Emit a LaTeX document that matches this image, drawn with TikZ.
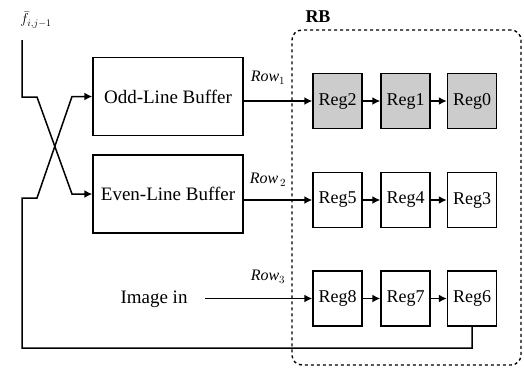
\documentclass[tikz,border=0pt]{standalone}
\usepackage{fontspec}
\setmainfont{Liberation Serif}
\usetikzlibrary{arrows.meta}
\begin{document}
\begin{tikzpicture}[x=1pt,y=-1pt,
  buf/.style={draw,line width=1.5pt,minimum width=150pt,minimum height=78pt,inner sep=0pt,font=\fontsize{19}{21}\selectfont},
  reg/.style={draw,line width=1.5pt,minimum width=49pt,minimum height=55pt,inner sep=0pt,font=\fontsize{18}{20}\selectfont},
  greg/.style={reg,fill=black!20},
  conn/.style={line width=1.5pt},
  arr/.style={conn,-{Latex[length=8pt,width=8pt]}},
  lbl/.style={font=\fontsize{16}{18}\selectfont\itshape,inner sep=0pt}
]
\useasboundingbox (0,0) rectangle (524,368);
% RB
\node[draw,dashed,line width=1.4pt,rounded corners=10pt,minimum width=229pt,minimum height=335pt,inner sep=0pt] (rb) at (406.5,197.5) {};
\node[font=\fontsize{18}{20}\selectfont\bfseries,inner sep=0pt] (rbl) at (318,17) {RB};
% buffers
\node[buf] (odd) at (168,96.5) {Odd-Line Buffer};
\node[buf] (even) at (168,194) {Even-Line Buffer};
% registers
\node[greg] (r2) at (337.5,101) {Reg2};
\node[greg] (r1) at (405.5,101) {Reg1};
\node[greg] (r0) at (472,101) {Reg0};
\node[reg] (r5) at (337.5,200) {Reg5};
\node[reg] (r4) at (405.5,200) {Reg4};
\node[reg] (r3) at (472,200) {Reg3};
\node[reg] (r8) at (337.5,298.5) {Reg8};
\node[reg] (r7) at (405.5,298.5) {Reg7};
\node[reg] (r6) at (472,298.5) {Reg6};
% inputs
\node[font=\fontsize{19}{21}\selectfont,inner sep=0pt] (img) at (154,299) {Image in};
\node[inner sep=0pt,font=\fontsize{14}{16}\selectfont] (f) at (36,20) {$\bar{f}_{i,j-1}$};
% row labels
\node[lbl] (row1) at (268,78) {Row$_1$};
\node[lbl] (row2) at (268,180) {Row$_{\,2}$};
\node[lbl] (row3) at (268,277) {Row$_3$};
% row arrows
\draw[arr] (odd.east |- r2.west) -- (r2.west);
\draw[arr] (even.east |- r5.west) -- (r5.west);
\draw[arr] (205,298.5) coordinate (imgs) -- (r8.west);
\draw[arr] (r2) -- (r1);
\draw[arr] (r1) -- (r0);
\draw[arr] (r5) -- (r4);
\draw[arr] (r4) -- (r3);
\draw[arr] (r8) -- (r7);
\draw[arr] (r7) -- (r6);
% crossing
\coordinate (ftop) at (22,40);
\draw[arr] (ftop) -- (22,97) -- (37,97) -- (72,194) -- (even.west);
\draw[arr] (r6.south) -- (472,348) -- (22,348) -- (22,198) -- (37,198) -- (72,96.5) -- (odd.west);
\end{tikzpicture}
\end{document}
